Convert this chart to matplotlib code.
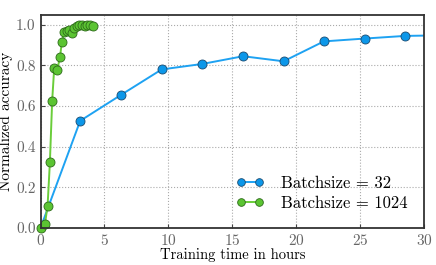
import matplotlib
matplotlib.use('Agg')
import matplotlib.pyplot as plt

plt.rcParams['font.family'] = 'serif'
plt.rcParams['font.serif'] = ['cmr10']
plt.rcParams['mathtext.fontset'] = 'cm'
plt.rcParams['axes.formatter.use_mathtext'] = True

# data
bs32_hours = [0.0, 3.1, 6.3, 9.47, 12.65, 15.84, 19.0, 22.15, 25.35, 28.5, 31.6]
bs32_acc = [0.0, 0.527, 0.655, 0.78, 0.807, 0.845, 0.82, 0.918, 0.932, 0.945, 0.948]

bs1024_hours = [0.0, 0.34, 0.55, 0.73, 0.91, 1.07, 1.3, 1.52, 1.67, 1.85, 2.04, 2.22,
                2.43, 2.62, 2.83, 3.03, 3.24, 3.48, 3.66, 3.87, 4.08]
bs1024_acc = [0.0, 0.017, 0.109, 0.323, 0.627, 0.789, 0.777, 0.84, 0.917, 0.965, 0.968,
              0.975, 0.961, 0.986, 0.993, 0.997, 0.997, 0.996, 1.0, 0.997, 0.993]

fig, ax = plt.subplots(figsize=(4.36, 2.65), dpi=100)
fig.subplots_adjust(left=0.093, right=0.973, top=0.945, bottom=0.14)

ax.plot(bs32_hours, bs32_acc, '-o', color='#1ea2f2', markerfacecolor='#0c97e9',
        markeredgecolor='#1a4a70', markeredgewidth=0.6, markersize=6.5, lw=1.4,
        label='Batchsize = 32')
ax.plot(bs1024_hours, bs1024_acc, '-o', color='#6acd3a', markerfacecolor='#5bc432',
        markeredgecolor='#2d6a1a', markeredgewidth=0.6, markersize=6.5, lw=1.4,
        label='Batchsize = 1024', clip_on=False)

ax.set_xlim(0, 30)
ax.set_ylim(0, 1.05)
ax.set_xticks([0, 5, 10, 15, 20, 25, 30])
ax.set_yticks([0.0, 0.2, 0.4, 0.6, 0.8, 1.0])
ax.set_yticklabels(['0.0', '0.2', '0.4', '0.6', '0.8', '1.0'])
ax.grid(True, color='#aaaaaa', linestyle=':', linewidth=0.8)
ax.set_axisbelow(True)
for s in ax.spines.values():
    s.set_color('#333333')
    s.set_linewidth(1.3)
ax.tick_params(labelsize=11, labelcolor='#666666', colors='#444444',
               direction='in', length=3)
ax.set_xlabel('Training time in hours', fontsize=10.5, labelpad=0)
ax.set_ylabel('Normalized accuracy', fontsize=11, labelpad=2)

ax.legend(loc='lower right', frameon=False, fontsize=12, handlelength=1.7,
          handletextpad=1.0, numpoints=2, markerscale=0.85,
          borderaxespad=0.6, labelspacing=0.3)

fig.savefig('out.png', dpi=100)
